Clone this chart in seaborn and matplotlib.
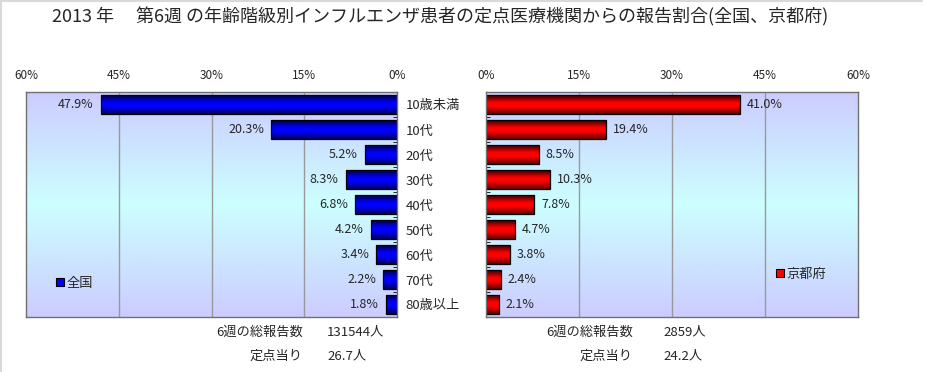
import matplotlib
matplotlib.use('Agg')
import matplotlib.pyplot as plt
import seaborn as sns
import numpy as np
from matplotlib.colors import LinearSegmentedColormap
from matplotlib.patches import Patch
from matplotlib.lines import Line2D

sns.set_style('white')
plt.rcParams['font.family'] = ['Noto Sans CJK JP', 'DejaVu Sans']

# data
ages = ['10歳未満', '10代', '20代', '30代', '40代', '50代', '60代', '70代', '80歳以上']
zenkoku = [47.9, 20.3, 5.2, 8.3, 6.8, 4.2, 3.4, 2.2, 1.8]
kyoto = [41.0, 19.4, 8.5, 10.3, 7.8, 4.7, 3.8, 2.4, 2.1]
xticks = [0, 15, 30, 45, 60]
title = '2013 年　 第6週 の年齢階級別インフルエンザ患者の定点医療機関からの報告割合(全国、京都府)'
left_notes = [('6週の総報告数', '131544人'), ('定点当り', '26.7人')]
right_notes = [('6週の総報告数', '2859人'), ('定点当り', '24.2人')]

bg_cmap = LinearSegmentedColormap.from_list('bg', ['#CCCCFF', '#CCFFFF', '#CCCCFF'])
blue_cmap = LinearSegmentedColormap.from_list(
    'blu', list(zip([0, 0.4, 0.6, 1], ['#000040', '#0000FF', '#0000FF', '#000060'])))
red_cmap = LinearSegmentedColormap.from_list(
    'rd', list(zip([0, 0.4, 0.6, 1], ['#300000', '#FF0000', '#FF0000', '#600000'])))

fig = plt.figure(figsize=(9.26, 3.72), dpi=100)
W, H = 926, 372
ax_l = fig.add_axes([26 / W, (H - 317) / H, 371 / W, 225 / H])
ax_r = fig.add_axes([486 / W, (H - 317) / H, 372 / W, 225 / H])


def draw_side(ax, values, color, cmap, inverted):
    sns.barplot(x=values, y=ages, orient='h', ax=ax, color=color, width=0.76,
                edgecolor='black', linewidth=0.9, saturation=1)
    # gradient background of the plot area
    grad = np.linspace(0, 1, 256).reshape(-1, 1)
    ax.imshow(grad, cmap=bg_cmap, extent=[0, 1, 0, 1], transform=ax.transAxes,
              aspect='auto', zorder=-2)
    # shaded bars
    for p in ax.patches:
        x0, y0 = p.get_xy()
        w, h = p.get_width(), p.get_height()
        im = ax.imshow(grad, cmap=cmap, extent=[x0, x0 + w, y0 + h, y0],
                       aspect='auto', zorder=1.5, origin='upper')
        im.set_clip_path(p)
        p.set_facecolor('none')
        p.set_zorder(2)
    # value labels
    for i, v in enumerate(values):
        ax.annotate(f'{v:.1f}%', xy=(v, i), xytext=(-5 if inverted else 5, 0),
                    textcoords='offset points', ha='right' if inverted else 'left',
                    va='center', fontsize=9)
    for g in xticks[1:-1]:
        ax.axvline(g, color='#999999', lw=1, zorder=0)
    ax.set_xticks(xticks)
    ax.set_xticklabels([f'{t}%' for t in xticks])
    ax.xaxis.tick_top()
    ax.tick_params(axis='x', length=0, pad=7, labelsize=8.5)
    ax.set_yticks(np.arange(-0.5, len(ages), 1), minor=True)
    ax.set_xlim((60, 0) if inverted else (0, 60))
    ax.set_ylim(len(ages) - 0.5, -0.5)
    ax.set_xlabel('')
    ax.set_ylabel('')
    for s in ax.spines.values():
        s.set_color('#707070')
        s.set_linewidth(1)


draw_side(ax_l, zenkoku, '#0000FF', blue_cmap, True)
draw_side(ax_r, kyoto, '#FF0000', red_cmap, False)

ax_l.yaxis.tick_right()
ax_l.tick_params(axis='y', which='major', length=0, pad=6, labelsize=9.5)
ax_l.tick_params(axis='y', which='minor', direction='in', length=3, color='black',
                 right=True, left=False)
ax_r.tick_params(axis='y', which='major', length=0, labelleft=False)
ax_r.tick_params(axis='y', which='minor', direction='in', length=3, color='black',
                 left=True, right=False)

ax_l.legend(handles=[Patch(facecolor='#0000FF', edgecolor='black', lw=0.8)], labels=['全国'],
            loc='center left', bbox_to_anchor=(0.08, 0.151), frameon=False, fontsize=9.5,
            handlelength=0.6, handleheight=0.6, handletextpad=0.2, borderpad=0, borderaxespad=0)
ax_r.legend(handles=[Patch(facecolor='#FF0000', edgecolor='black', lw=0.8)], labels=['京都府'],
            loc='center left', bbox_to_anchor=(0.78, 0.191), frameon=False, fontsize=9.5,
            handlelength=0.6, handleheight=0.6, handletextpad=0.2, borderpad=0, borderaxespad=0)

fig.text(440 / W, 1 - 17 / H, title, ha='center', va='center', fontsize=13)

for notes, xl, xv in [(left_notes, 303, 327), (right_notes, 633, 663)]:
    for (lab, val), y in zip(notes, [332, 356]):
        fig.text(xl / W, 1 - y / H, lab, ha='right', va='center', fontsize=9.5)
        fig.text(xv / W, 1 - y / H, val, ha='left', va='center', fontsize=9.5)

# thin outer frame of the original image
fig.add_artist(Line2D([0, 922 / W], [1 - 1 / H, 1 - 1 / H], color='#D9D9D9', lw=1.5))
fig.add_artist(Line2D([1 / W, 1 / W], [0, 1], color='#D9D9D9', lw=1.5))

fig.savefig('out.png', dpi=100)
